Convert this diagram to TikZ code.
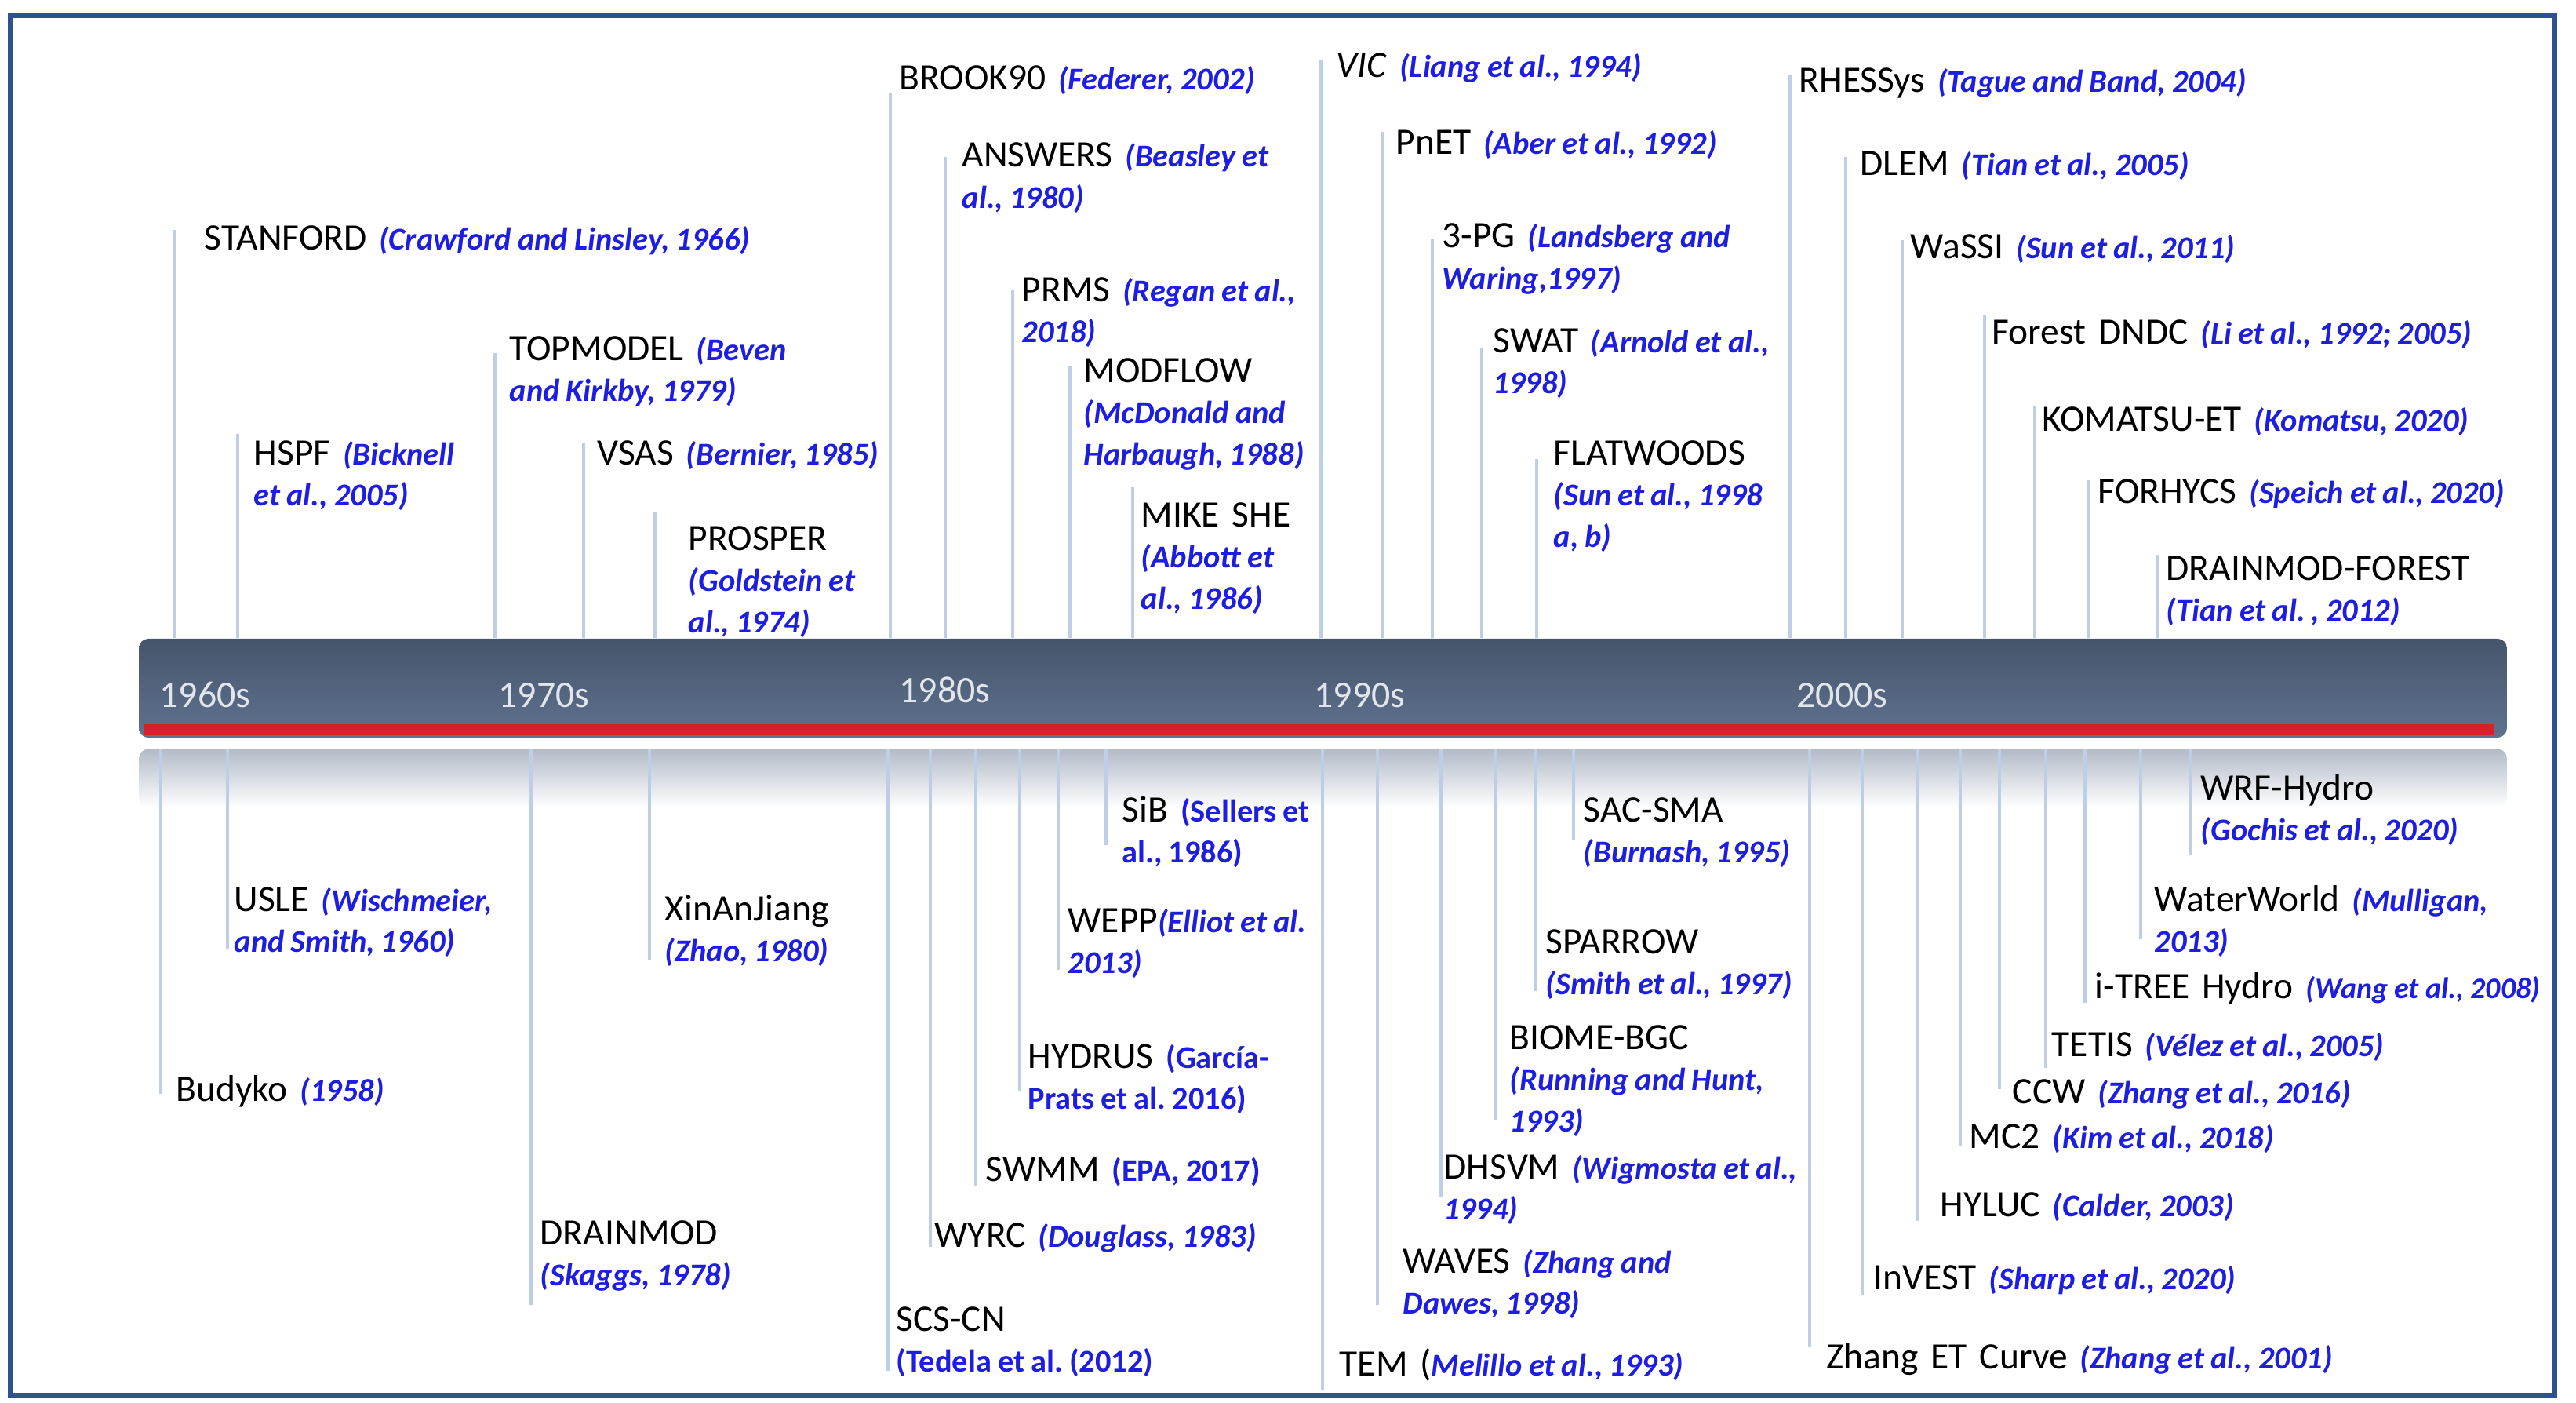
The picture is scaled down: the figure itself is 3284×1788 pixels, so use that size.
\documentclass[tikz,border=0pt]{standalone}
\usepackage{fontspec}
\setmainfont{Carlito}
\frenchspacing
\definecolor{citeblue}{RGB}{30,30,225}
\definecolor{stemblue}{RGB}{190,206,230}
\definecolor{frameblue}{RGB}{47,82,143}
\definecolor{bartop}{RGB}{70,85,107}
\definecolor{barbottom}{RGB}{95,114,143}
\definecolor{barred}{RGB}{211,34,42}
\definecolor{palebar}{RGB}{178,187,200}
\definecolor{decadegray}{RGB}{225,229,236}
\newcommand{\src}[1]{{\fontsize{11.5}{15}\selectfont\bfseries\itshape\spaceskip=0.2em plus 0.05em\color{citeblue}#1}}
\newcommand{\srcup}[1]{{\fontsize{11.5}{15}\selectfont\bfseries\spaceskip=0.2em plus 0.05em\color{citeblue}#1}}
\tikzset{
  model/.style={anchor=base west, inner sep=0pt, text width=9cm, align=left,
    font=\fontsize{13.5}{15}\selectfont},
  decade/.style={anchor=base west, inner sep=0pt, text=decadegray,
    font=\fontsize{13.6}{15}\selectfont},
  timebar/.style={rectangle, rounded corners=0.12cm, inner sep=0pt,
    minimum width=30.17cm, minimum height=1.26cm, top color=bartop, bottom color=barbottom},
  mirrorbar/.style={rectangle, rounded corners=0.12cm, inner sep=0pt,
    minimum width=30.17cm, minimum height=0.75cm, top color=palebar, bottom color=white},
  stem/.style={draw=stemblue, line width=0.9pt},
  frame/.style={draw=frameblue, line width=1.5pt}
}
\begin{document}
\begin{tikzpicture}[x=0.01cm, y=-0.01cm]
  \useasboundingbox (0,0) rectangle (3284,1788);
  \draw[frame] (13,20) rectangle (3257,1778);
  \path
    (1686.5,877) node[timebar] (upbar){}
    (1686.5,992) node[mirrorbar] (lowbar){};
  \fill[barred] (184,923) rectangle (3180,937);
  \path
    (203,901) node[decade] (d60){1960s}
    (635,901) node[decade] (d70){1970s}
    (1146,895) node[decade] (d80){1980s}
    (1675,901) node[decade] (d90){1990s}
    (2290,901) node[decade] (d00){2000s};
  \path
    (260,318) node[model] (stanford){STANFORD \src{(Crawford and Linsley, 1966)}}
    (323,592) node[model] (hspf){HSPF \src{(Bicknell\\et al., 2005)}}
    (649,459) node[model] (topmodel){TOPMODEL \src{(Beven\\and Kirkby, 1979)}}
    (761,592) node[model] (vsas){VSAS \src{(Bernier, 1985)}}
    (877,701) node[model] (prosper){PROSPER\\\src{(Goldstein et\\al., 1974)}}
    (1146,115) node[model] (brook){BROOK90 \src{(Federer, 2002)}}
    (1226,213) node[model] (answers){ANSWERS \src{(Beasley et\\al., 1980)}}
    (1302,384) node[model] (prms){PRMS \src{(Regan et al.,\\2018)}}
    (1381,487) node[model] (modflow){MODFLOW\\\src{(McDonald and\\Harbaugh, 1988)}}
    (1454,671) node[model] (mikeshe){MIKE SHE\\\src{(Abbott et\\al., 1986)}}
    (1703,99) node[model] (vic){\textit{VIC} \src{(Liang et al., 1994)}}
    (1779,197) node[model] (pnet){PnET \src{(Aber et al., 1992)}}
    (1838,316) node[model] (threepg){3-PG \src{(Landsberg and\\Waring,1997)}}
    (1903,449) node[model] (swat){SWAT \src{(Arnold et al.,\\1998)}}
    (1980,592) node[model] (flatwoods){FLATWOODS\\\src{(Sun et al., 1998\\a, b)}}
    (2293,118) node[model] (rhessys){RHESSys \src{(Tague and Band, 2004)}}
    (2371,224) node[model] (dlem){DLEM \src{(Tian et al., 2005)}}
    (2435,329) node[model] (wassi){WaSSI \src{(Sun et al., 2011)}}
    (2539,438) node[model] (dndc){Forest DNDC \src{(Li et al., 1992; 2005)}}
    (2603,549) node[model] (komatsu){KOMATSU-ET \src{(Komatsu, 2020)}}
    (2674,641) node[model] (forhycs){FORHYCS \src{(Speich et al., 2020)}}
    (2761,739) node[model] (dmforest){DRAINMOD-FOREST\\\src{(Tian et al. , 2012)}};
  \path
    (224,1403) node[model] (budyko){Budyko \src{(1958)}}
    (298,1161) node[model] (usle){USLE \src{(Wischmeier,\\and Smith, 1960)}}
    (688,1586) node[model] (drainmod){DRAINMOD\\\src{(Skaggs, 1978)}}
    (847,1173) node[model] (xaj){XinAnJiang\\\src{(Zhao, 1980)}}
    (1142,1696) node[model] (scscn){SCS-CN\\\srcup{(Tedela et al. (2012)}}
    (1191,1589) node[model] (wyrc){WYRC \src{(Douglass, 1983)}}
    (1256,1505) node[model] (swmm){SWMM \srcup{(EPA, 2017)}}
    (1310,1361) node[model] (hydrus){HYDRUS \srcup{(García-\\Prats et al. 2016)}}
    (1361,1188) node[model] (wepp){WEPP\src{(Elliot et al.\\2013)}}
    (1430,1047) node[model] (sib){SiB \srcup{(Sellers et\\al., 1986)}}
    (1707,1753) node[model] (tem){TEM (\src{Melillo et al., 1993)}}
    (1788,1622) node[model] (waves){WAVES \src{(Zhang and\\Dawes, 1998)}}
    (1840,1502) node[model] (dhsvm){DHSVM \src{(Wigmosta et al.,\\1994)}}
    (1924,1337) node[model] (biome){BIOME-BGC\\\src{(Running and Hunt,\\1993)}}
    (1970,1215) node[model] (sparrow){SPARROW\\\src{(Smith et al., 1997)}}
    (2018,1047) node[model] (sacsma){SAC-SMA\\\src{(Burnash, 1995)}}
    (2328,1744) node[model] (zhangcurve){Zhang ET Curve \src{(Zhang et al., 2001)}}
    (2388,1643) node[model] (invest){InVEST \src{(Sharp et al., 2020)}}
    (2473,1550) node[model] (hyluc){HYLUC \src{(Calder, 2003)}}
    (2510,1463) node[model] (mctwo){MC2 \src{(Kim et al., 2018)}}
    (2565,1406) node[model] (ccw){CCW \src{(Zhang et al., 2016)}}
    (2615,1346) node[model] (tetis){TETIS \src{(Vélez et al., 2005)}}
    (2670,1272) node[model] (itree){i-TREE Hydro \src{\fontsize{10.8}{15}\selectfont(Wang et al., 2008)}}
    (2746,1161) node[model] (waterworld){WaterWorld \src{(Mulligan,\\2013)}}
    (2805,1019) node[model] (wrfhydro){WRF-Hydro\\\src{(Gochis et al., 2020)}};
  \path
    (223,293) coordinate (stanford-top)
    (303,553) coordinate (hspf-top)
    (631,450) coordinate (topmodel-top)
    (744,564) coordinate (vsas-top)
    (835,653) coordinate (prosper-top)
    (1135,119) coordinate (brook-top)
    (1205,200) coordinate (answers-top)
    (1291,369) coordinate (prms-top)
    (1364,466) coordinate (modflow-top)
    (1444,621) coordinate (mikeshe-top)
    (1684,76) coordinate (vic-top)
    (1763,168) coordinate (pnet-top)
    (1826,304) coordinate (threepg-top)
    (1889,444) coordinate (swat-top)
    (1959,585) coordinate (flatwoods-top)
    (2282,95) coordinate (rhessys-top)
    (2353,200) coordinate (dlem-top)
    (2425,306) coordinate (wassi-top)
    (2530,401) coordinate (dndc-top)
    (2594,518) coordinate (komatsu-top)
    (2663,612) coordinate (forhycs-top)
    (2751,707) coordinate (dmforest-top);
  \path
    (205,1394) coordinate (budyko-end)
    (290,1209) coordinate (usle-end)
    (677,1663) coordinate (drainmod-end)
    (828,1224) coordinate (xaj-end)
    (1132,1747) coordinate (scscn-end)
    (1186,1589) coordinate (wyrc-end)
    (1244,1511) coordinate (swmm-end)
    (1300,1391) coordinate (hydrus-end)
    (1349,1236) coordinate (wepp-end)
    (1410,1077) coordinate (sib-end)
    (1686,1771) coordinate (tem-end)
    (1756,1663) coordinate (waves-end)
    (1837,1526) coordinate (dhsvm-end)
    (1907,1427) coordinate (biome-end)
    (1957,1263) coordinate (sparrow-end)
    (2006,1071) coordinate (sacsma-end)
    (2307,1717) coordinate (zhangcurve-end)
    (2374,1651) coordinate (invest-end)
    (2445,1556) coordinate (hyluc-end)
    (2499,1460) coordinate (mctwo-end)
    (2549,1388) coordinate (ccw-end)
    (2608,1361) coordinate (tetis-end)
    (2658,1278) coordinate (itree-end)
    (2729,1197) coordinate (waterworld-end)
    (2793,1089) coordinate (wrfhydro-end);
  \begin{scope}[stem]
    \draw (stanford-top) to (stanford-top |- upbar.north);
    \draw (hspf-top) to (hspf-top |- upbar.north);
    \draw (topmodel-top) to (topmodel-top |- upbar.north);
    \draw (vsas-top) to (vsas-top |- upbar.north);
    \draw (prosper-top) to (prosper-top |- upbar.north);
    \draw (brook-top) to (brook-top |- upbar.north);
    \draw (answers-top) to (answers-top |- upbar.north);
    \draw (prms-top) to (prms-top |- upbar.north);
    \draw (modflow-top) to (modflow-top |- upbar.north);
    \draw (mikeshe-top) to (mikeshe-top |- upbar.north);
    \draw (vic-top) to (vic-top |- upbar.north);
    \draw (pnet-top) to (pnet-top |- upbar.north);
    \draw (threepg-top) to (threepg-top |- upbar.north);
    \draw (swat-top) to (swat-top |- upbar.north);
    \draw (flatwoods-top) to (flatwoods-top |- upbar.north);
    \draw (rhessys-top) to (rhessys-top |- upbar.north);
    \draw (dlem-top) to (dlem-top |- upbar.north);
    \draw (wassi-top) to (wassi-top |- upbar.north);
    \draw (dndc-top) to (dndc-top |- upbar.north);
    \draw (komatsu-top) to (komatsu-top |- upbar.north);
    \draw (forhycs-top) to (forhycs-top |- upbar.north);
    \draw (dmforest-top) to (dmforest-top |- upbar.north);
    \draw (budyko-end |- lowbar.north) to (budyko-end);
    \draw (usle-end |- lowbar.north) to (usle-end);
    \draw (drainmod-end |- lowbar.north) to (drainmod-end);
    \draw (xaj-end |- lowbar.north) to (xaj-end);
    \draw (scscn-end |- lowbar.north) to (scscn-end);
    \draw (wyrc-end |- lowbar.north) to (wyrc-end);
    \draw (swmm-end |- lowbar.north) to (swmm-end);
    \draw (hydrus-end |- lowbar.north) to (hydrus-end);
    \draw (wepp-end |- lowbar.north) to (wepp-end);
    \draw (sib-end |- lowbar.north) to (sib-end);
    \draw (tem-end |- lowbar.north) to (tem-end);
    \draw (waves-end |- lowbar.north) to (waves-end);
    \draw (dhsvm-end |- lowbar.north) to (dhsvm-end);
    \draw (biome-end |- lowbar.north) to (biome-end);
    \draw (sparrow-end |- lowbar.north) to (sparrow-end);
    \draw (sacsma-end |- lowbar.north) to (sacsma-end);
    \draw (zhangcurve-end |- lowbar.north) to (zhangcurve-end);
    \draw (invest-end |- lowbar.north) to (invest-end);
    \draw (hyluc-end |- lowbar.north) to (hyluc-end);
    \draw (mctwo-end |- lowbar.north) to (mctwo-end);
    \draw (ccw-end |- lowbar.north) to (ccw-end);
    \draw (tetis-end |- lowbar.north) to (tetis-end);
    \draw (itree-end |- lowbar.north) to (itree-end);
    \draw (waterworld-end |- lowbar.north) to (waterworld-end);
    \draw (wrfhydro-end |- lowbar.north) to (wrfhydro-end);
  \end{scope}
\end{tikzpicture}
\end{document}
